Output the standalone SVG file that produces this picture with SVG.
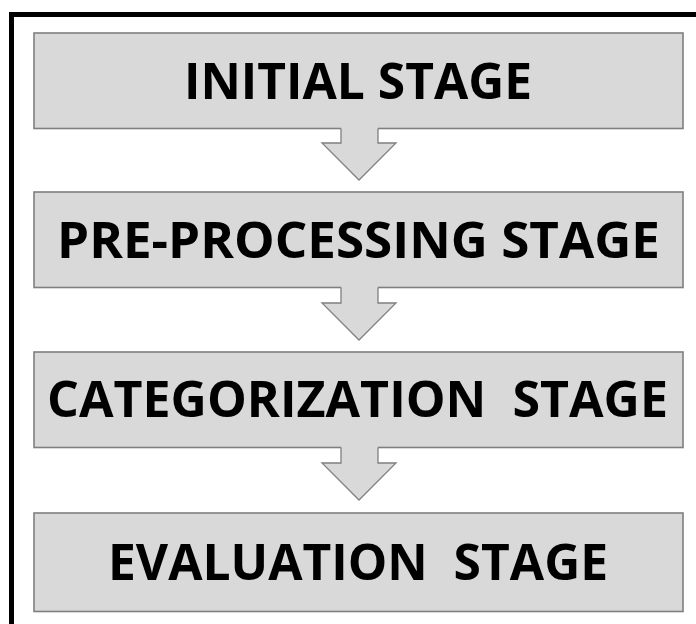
<svg xmlns="http://www.w3.org/2000/svg" width="696" height="624" viewBox="0 0 696 624">
<style>
.box{fill:#d9d9d9;stroke:#7f7f7f;stroke-width:1.6}
.afill{fill:#d9d9d9;stroke:none}
.aline{fill:none;stroke:#7f7f7f;stroke-width:1.3;stroke-linejoin:miter}
.lbl{font-family:"Open Sans","Liberation Sans",sans-serif;font-weight:bold;font-size:51px;fill:#000;text-anchor:middle}
</style>
<rect x="0" y="0" width="696" height="624" fill="#fff"/>
<rect x="11.5" y="14.5" width="700" height="640" fill="none" stroke="#000" stroke-width="5"/>
<g id="node1">
<rect class="box" x="34" y="33" width="649" height="95.5"/>
<text class="lbl" x="358" y="99" textLength="348" lengthAdjust="spacingAndGlyphs">INITIAL STAGE</text>
</g>
<g id="node2">
<rect class="box" x="34" y="192" width="649" height="95.5"/>
<text class="lbl" x="358.5" y="258" textLength="603" lengthAdjust="spacingAndGlyphs">PRE-PROCESSING STAGE</text>
</g>
<g id="node3">
<rect class="box" x="34" y="352" width="649" height="95.5"/>
<text class="lbl" x="357.5" y="417" textLength="621" lengthAdjust="spacingAndGlyphs" xml:space="preserve">CATEGORIZATION  STAGE</text>
</g>
<g id="node4">
<rect class="box" x="34" y="513" width="649" height="98.5"/>
<text class="lbl" x="358" y="580" textLength="500" lengthAdjust="spacingAndGlyphs" xml:space="preserve">EVALUATION  STAGE</text>
</g>
<g id="connectors">
<g id="arrow1">
<polygon class="afill" points="341,126 341,143 322,143 359,180 396,143 378,143 378,126"/>
<polyline class="aline" points="341,128.5 341,143 322,143 359,180 396,143 378,143 378,128.5"/>
</g>
<g id="arrow2">
<polygon class="afill" points="341,285 341,303 322,303 359,340 396,303 378,303 378,285"/>
<polyline class="aline" points="341,287.5 341,303 322,303 359,340 396,303 378,303 378,287.5"/>
</g>
<g id="arrow3">
<polygon class="afill" points="341,445 341,463 322,463 359,500 396,463 378,463 378,445"/>
<polyline class="aline" points="341,447.5 341,463 322,463 359,500 396,463 378,463 378,447.5"/>
</g>
</g>
</svg>
